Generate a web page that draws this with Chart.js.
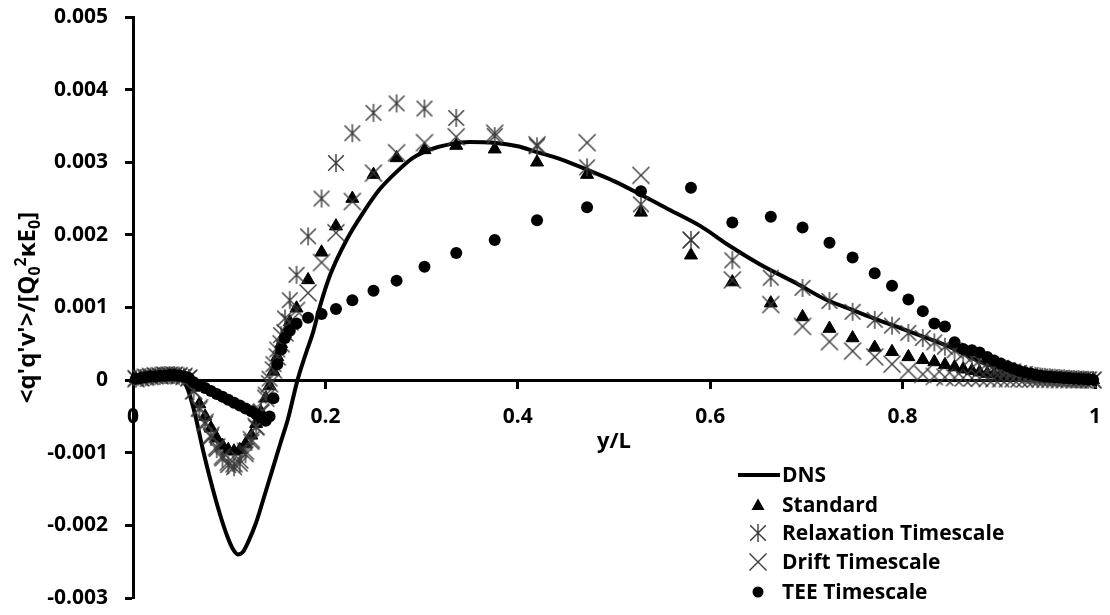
<!DOCTYPE html>
<html lang="en">
<head>
<meta charset="UTF-8">
<title>q'q'v' profile</title>
<script src="https://cdn.jsdelivr.net/npm/chart.js@4.4.1/dist/chart.umd.min.js"></script>
<style>
  html, body { margin: 0; padding: 0; background: #fff; }
  #wrap { width: 1110px; height: 615px; }
</style>
</head>
<body>
<div id="wrap"><canvas id="chart" width="1110" height="615"></canvas></div>
<script>
// values are in units of 0.001 (axis labels put the factor back)
const yL = [0.003, 0.008, 0.013, 0.018, 0.023, 0.028, 0.033, 0.038, 0.043, 0.048, 0.053, 0.058,
  0.063, 0.069, 0.075, 0.081, 0.087, 0.093, 0.099, 0.105, 0.111, 0.117, 0.123, 0.128, 0.133, 0.138,
  0.142, 0.146, 0.150, 0.154, 0.158, 0.163,
  0.170, 0.182, 0.196, 0.211, 0.228, 0.250, 0.274, 0.303, 0.336, 0.376, 0.420, 0.472, 0.528, 0.580,
  0.623, 0.663, 0.696, 0.724, 0.748, 0.771, 0.789, 0.806, 0.821, 0.833, 0.844, 0.854, 0.863, 0.872,
  0.880, 0.888, 0.895, 0.902, 0.909, 0.915,
  0.921, 0.927, 0.933, 0.938, 0.943, 0.948, 0.953, 0.958, 0.963, 0.968, 0.973, 0.978, 0.983, 0.988,
  0.993, 0.998];

const standard = [0.02, 0.03, 0.04, 0.05, 0.05, 0.06, 0.06, 0.07, 0.07, 0.06, 0.05, 0.03,
  -0.1, -0.33, -0.5, -0.66, -0.8, -0.9, -0.96, -0.98, -0.96, -0.88, -0.76, -0.6, -0.44, -0.25,
  -0.08, 0.12, 0.32, 0.5, 0.64, 0.8,
  0.99, 1.38, 1.76, 2.12, 2.5, 2.83, 3.06, 3.17, 3.23, 3.18, 3.0, 2.83, 2.31, 1.72,
  1.35, 1.06, 0.87, 0.71, 0.58, 0.45, 0.39, 0.32, 0.28, 0.25, 0.21, 0.18, 0.15, 0.13,
  0.11, 0.09, 0.08, 0.07, 0.06, 0.05,
  0.045, 0.04, 0.035, 0.03, 0.027, 0.024, 0.021, 0.018, 0.016, 0.014, 0.012, 0.01, 0.008, 0.006,
  0.004, 0.002];

const relaxation = [0.02, 0.03, 0.04, 0.05, 0.06, 0.06, 0.07, 0.07, 0.07, 0.06, 0.05, 0.03,
  -0.15, -0.4, -0.6, -0.78, -0.95, -1.08, -1.17, -1.2, -1.15, -1.02, -0.85, -0.65, -0.43, -0.2,
  0.02, 0.22, 0.42, 0.62, 0.85, 1.1,
  1.45, 1.98, 2.5, 2.99, 3.4, 3.68, 3.81, 3.74, 3.61, 3.36, 3.22, 2.93, 2.42, 1.93,
  1.65, 1.41, 1.27, 1.09, 0.94, 0.83, 0.75, 0.65, 0.58, 0.52, 0.46, 0.41, 0.36, 0.31,
  0.27, 0.23, 0.2, 0.17, 0.14, 0.12,
  0.1, 0.085, 0.07, 0.06, 0.05, 0.045, 0.04, 0.035, 0.03, 0.025, 0.02, 0.017, 0.014, 0.01,
  0.006, 0.003];

const drift = [0.02, 0.03, 0.04, 0.05, 0.06, 0.06, 0.07, 0.07, 0.07, 0.06, 0.05, 0.03,
  -0.15, -0.38, -0.58, -0.76, -0.92, -1.05, -1.13, -1.15, -1.1, -0.98, -0.82, -0.64, -0.45, -0.25,
  -0.05, 0.14, 0.32, 0.5, 0.65, 0.8,
  0.96, 1.2, 1.62, 2.03, 2.46, 2.85, 3.13, 3.27, 3.35, 3.4, 3.24, 3.27, 2.82, 1.93,
  1.38, 1.04, 0.74, 0.53, 0.4, 0.32, 0.22, 0.13, 0.08, 0.05, 0.04, 0.035, 0.03, 0.028,
  0.026, 0.024, 0.022, 0.02, 0.019, 0.018,
  0.017, 0.016, 0.015, 0.014, 0.013, 0.012, 0.011, 0.01, 0.009, 0.008, 0.007, 0.006, 0.005, 0.004,
  0.003, 0.001];

const tee = [0.02, 0.03, 0.04, 0.05, 0.05, 0.06, 0.06, 0.07, 0.07, 0.06, 0.05, 0.03,
  -0.03, -0.07, -0.11, -0.15, -0.19, -0.23, -0.27, -0.31, -0.35, -0.39, -0.43, -0.47, -0.51, -0.56,
  -0.5, -0.25, 0.22, 0.42, 0.58, 0.68,
  0.78, 0.86, 0.91, 0.98, 1.1, 1.23, 1.37, 1.56, 1.75, 1.93, 2.2, 2.38, 2.6, 2.65,
  2.17, 2.25, 2.1, 1.89, 1.69, 1.47, 1.3, 1.11, 0.95, 0.78, 0.74, 0.52, 0.43, 0.41,
  0.38, 0.32, 0.27, 0.23, 0.19, 0.16,
  0.13, 0.11, 0.09, 0.075, 0.06, 0.05, 0.045, 0.04, 0.035, 0.03, 0.025, 0.02, 0.016, 0.012,
  0.008, 0.004];

const dnsX = [0, 0.02, 0.04, 0.05, 0.057, 0.065, 0.072, 0.08, 0.09, 0.098, 0.104, 0.109, 0.114,
  0.12, 0.128, 0.136, 0.145, 0.153, 0.161, 0.171, 0.18, 0.187, 0.194, 0.205, 0.222, 0.24, 0.256,
  0.275, 0.291, 0.31, 0.33, 0.35, 0.375, 0.4, 0.42, 0.445, 0.475, 0.5, 0.527, 0.56, 0.59, 0.62,
  0.651, 0.69, 0.72, 0.745, 0.77, 0.797, 0.825, 0.85, 0.87, 0.885, 0.91, 0.935, 0.96, 1.0];
const dnsVals = [0, 0.02, 0.03, 0.01, -0.13, -0.5, -0.92, -1.35, -1.83, -2.15, -2.33, -2.4, -2.37,
  -2.22, -1.96, -1.62, -1.23, -0.88, -0.54, 0, 0.38, 0.65, 1.0, 1.45, 1.93, 2.32, 2.62,
  2.88, 3.06, 3.18, 3.25, 3.28, 3.27, 3.22, 3.14, 3.04, 2.88, 2.74, 2.56, 2.33, 2.12, 1.85,
  1.6, 1.33, 1.11, 0.98, 0.85, 0.72, 0.58, 0.45, 0.32, 0.23, 0.13, 0.07, 0.03, 0];

const seriesNames = ['DNS', 'Standard', 'Relaxation Timescale', 'Drift Timescale', 'TEE Timescale'];

const FONT = "'Open Sans', 'DejaVu Sans', sans-serif";
const INK = '#000';
const MARK = '#3a3a3a';

function lineMarker(withBar) {
  const c = document.createElement('canvas');
  c.width = 22; c.height = 22;
  const g = c.getContext('2d');
  g.strokeStyle = MARK;
  g.lineWidth = 1.4;
  g.beginPath();
  const r = withBar ? 7.8 : 8.5;
  g.moveTo(11 - r, 11 - r); g.lineTo(11 + r, 11 + r);
  g.moveTo(11 + r, 11 - r); g.lineTo(11 - r, 11 + r);
  if (withBar) { g.moveTo(11, 2); g.lineTo(11, 20); }
  g.stroke();
  return c;
}
const starImg = lineMarker(true);
const crossImg = lineMarker(false);

const pts = vals => yL.map((x, i) => ({ x: x, y: vals[i] }));

const yTitle = {
  id: 'yTitle',
  afterDraw(chart) {
    const { ctx, chartArea } = chart;
    const parts = [["<q'q'v'>/[Q", 0], ['0', 1], ['2', -1], ['\u03baE', 0], ['0', 1], [']', 0]];
    const big = 'bold 24px ' + FONT, small = 'bold 16px ' + FONT;
    ctx.save();
    let w = 0;
    parts.forEach(p => { ctx.font = p[1] ? small : big; w += ctx.measureText(p[0]).width; });
    ctx.translate(27, (chartArea.top + chartArea.bottom) / 2);
    ctx.rotate(-Math.PI / 2);
    ctx.fillStyle = INK;
    ctx.textBaseline = 'alphabetic';
    let x = -w / 2;
    parts.forEach(p => {
      ctx.font = p[1] ? small : big;
      const dy = p[1] === 1 ? 5 : (p[1] === -1 ? -9 : 0);
      ctx.fillText(p[0], x, 8 + dy);
      x += ctx.measureText(p[0]).width;
    });
    ctx.restore();
  }
};

const legendBox = {
  id: 'legendBox',
  afterDraw(chart) {
    const ctx = chart.ctx;
    const rows = [475, 505, 533, 562, 592];
    const mx = 758, tx = 782;
    ctx.save();
    ctx.font = 'bold 21px ' + FONT;
    ctx.fillStyle = INK;
    ctx.textBaseline = 'middle';
    // DNS line
    ctx.strokeStyle = INK;
    ctx.lineWidth = 4;
    ctx.beginPath();
    ctx.moveTo(738, rows[0]); ctx.lineTo(780, rows[0]);
    ctx.stroke();
    // triangle
    ctx.beginPath();
    ctx.moveTo(mx, rows[1] - 6.5);
    ctx.lineTo(mx + 6.5, rows[1] + 5);
    ctx.lineTo(mx - 6.5, rows[1] + 5);
    ctx.closePath();
    ctx.fill();
    ctx.drawImage(starImg, mx - 11, rows[2] - 11);
    ctx.drawImage(crossImg, mx - 11, rows[3] - 11);
    ctx.beginPath();
    ctx.arc(mx, rows[4], 5.5, 0, Math.PI * 2);
    ctx.fill();
    seriesNames.forEach((s, i) => ctx.fillText(s, tx, rows[i] + 1));
    ctx.restore();
  }
};

new Chart(document.getElementById('chart'), {
  type: 'scatter',
  data: {
    datasets: [
      {
        label: seriesNames[0], type: 'line', order: 5,
        data: dnsX.map((x, i) => ({ x: x, y: dnsVals[i] })),
        borderColor: INK, borderWidth: 4, pointRadius: 0,
        cubicInterpolationMode: 'monotone', fill: false
      },
      {
        label: seriesNames[1], order: 4, data: pts(standard), clip: false,
        pointStyle: 'triangle', pointRadius: 7.5, backgroundColor: INK, borderColor: INK, borderWidth: 1
      },
      {
        label: seriesNames[2], order: 3, data: pts(relaxation), clip: false,
        pointStyle: starImg, pointRadius: 8
      },
      {
        label: seriesNames[3], order: 2, data: pts(drift), clip: false,
        pointStyle: crossImg, pointRadius: 8
      },
      {
        label: seriesNames[4], order: 1, data: pts(tee), clip: false,
        pointStyle: 'circle', pointRadius: 6, backgroundColor: INK, borderColor: INK, borderWidth: 0
      }
    ]
  },
  options: {
    responsive: false,
    animation: false,
    layout: { padding: { left: 0, right: 15, top: 17, bottom: 17 } },
    plugins: { legend: { display: false }, tooltip: { enabled: false } },
    scales: {
      x: {
        type: 'linear', position: { y: 0 }, min: 0, max: 1,
        // drop the label overhang so the plot box follows the layout padding
        afterFit: s => { s.paddingLeft = 0; s.paddingRight = 0; },
        ticks: {
          stepSize: 0.2, autoSkip: false, maxRotation: 0, padding: 17,
          color: INK, font: { family: FONT, size: 21, weight: 'bold' },
          callback: v => String(+v.toFixed(1))
        },
        grid: { drawOnChartArea: false, tickLength: 7, tickWidth: 3, tickColor: INK },
        border: { color: INK, width: 3 },
        title: {
          display: true, text: 'y/L', color: INK, padding: { top: -18, bottom: 0 },
          font: { family: FONT, size: 22, weight: 'bold' }
        }
      },
      y: {
        min: -3, max: 5,
        afterFit: s => { s.width = 133; s.paddingTop = 0; s.paddingBottom = 0; },
        ticks: {
          stepSize: 1, padding: 17, color: INK,
          font: { family: FONT, size: 21, weight: 'bold' },
          callback: v => (v === 0 ? '0' : (v / 1000).toFixed(3))
        },
        grid: { drawOnChartArea: false, tickLength: 8, tickWidth: 3, tickColor: INK },
        border: { color: INK, width: 3 }
      }
    }
  },
  plugins: [yTitle, legendBox]
});
</script>
</body>
</html>
